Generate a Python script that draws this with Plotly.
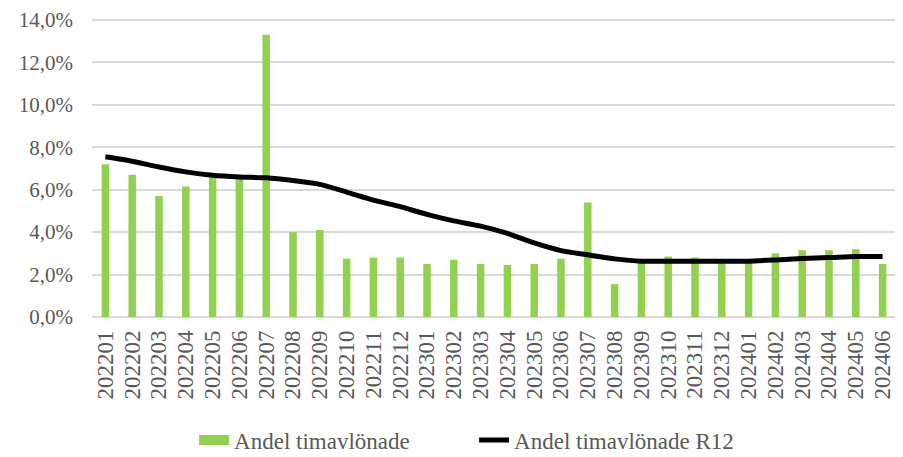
import plotly.graph_objects as go

months = ["202201","202202","202203","202204","202205","202206","202207","202208","202209","202210",
          "202211","202212","202301","202302","202303","202304","202305","202306","202307","202308",
          "202309","202310","202311","202312","202401","202402","202403","202404","202405","202406"]

andel = [7.2, 6.7, 5.7, 6.15, 6.6, 6.55, 13.3, 4.0, 4.1, 2.75,
         2.8, 2.8, 2.5, 2.7, 2.5, 2.45, 2.5, 2.75, 5.4, 1.55,
         2.6, 2.85, 2.8, 2.6, 2.6, 3.0, 3.15, 3.15, 3.2, 2.5]

andel_r12 = [7.55, 7.34, 7.07, 6.84, 6.68, 6.6, 6.56, 6.43, 6.25, 5.89,
             5.51, 5.2, 4.84, 4.53, 4.28, 3.94, 3.49, 3.13, 2.93, 2.74,
             2.63, 2.63, 2.63, 2.63, 2.63, 2.69, 2.76, 2.8, 2.85, 2.85]

yticks = [0, 0.02, 0.04, 0.06, 0.08, 0.10, 0.12, 0.14]

font_family = "Liberation Serif"
grey = "#595959"
green = "#92D050"

fig = go.Figure()
fig.add_trace(go.Bar(
    x=months, y=[v / 100 for v in andel], name="Andel timavlönade",
    marker=dict(color=green, line=dict(width=0)),
    showlegend=False, legendgroup="bar",
))
# legend entry for the bars with a wide rectangular swatch (draws nothing in the plot)
fig.add_trace(go.Scatter(
    x=[None], y=[None], name="Andel timavlönade", mode="lines",
    line=dict(color=green, width=11), legendgroup="bar", hoverinfo="skip",
))
fig.add_trace(go.Scatter(
    x=months, y=[v / 100 for v in andel_r12], name="Andel timavlönade R12",
    mode="lines", line=dict(color="black", width=5, shape="spline", smoothing=0.6),
))

# page body adds an 8px margin, so the figure is 8px smaller and margins compensate
fig.update_layout(
    width=895, height=449,
    margin=dict(l=84, r=7, t=9, b=140, autoexpand=False),
    paper_bgcolor="white", plot_bgcolor="white",
    separators=",.",
    bargap=0.72,
    font=dict(family=font_family, size=22, color=grey),
    showlegend=True,
    legend=dict(orientation="h", x=0.127, xanchor="left", y=-0.41, yanchor="middle",
                font=dict(family=font_family, size=23, color=grey), traceorder="normal",
                itemwidth=30, entrywidth=235),
)
fig.update_xaxes(
    type="category", tickangle=-90, showgrid=False, ticks="", showline=False,
    tickmode="array", tickvals=months, ticktext=months,
    ticklabelstandoff=8, automargin=False,
    tickfont=dict(family=font_family, size=23, color=grey),
)
fig.update_yaxes(
    range=[0, 0.1414], tickmode="array", tickvals=yticks, tickformat=".1%",
    showgrid=True, gridcolor="#D9D9D9", gridwidth=1.5,
    zeroline=True, zerolinecolor="#D9D9D9", zerolinewidth=1.5,
    ticks="", showline=False, ticklabelstandoff=18, automargin=False,
    ticklabeloverflow="allow",
    tickfont=dict(family=font_family, size=21, color=grey),
)

fig.write_html("out.html")
